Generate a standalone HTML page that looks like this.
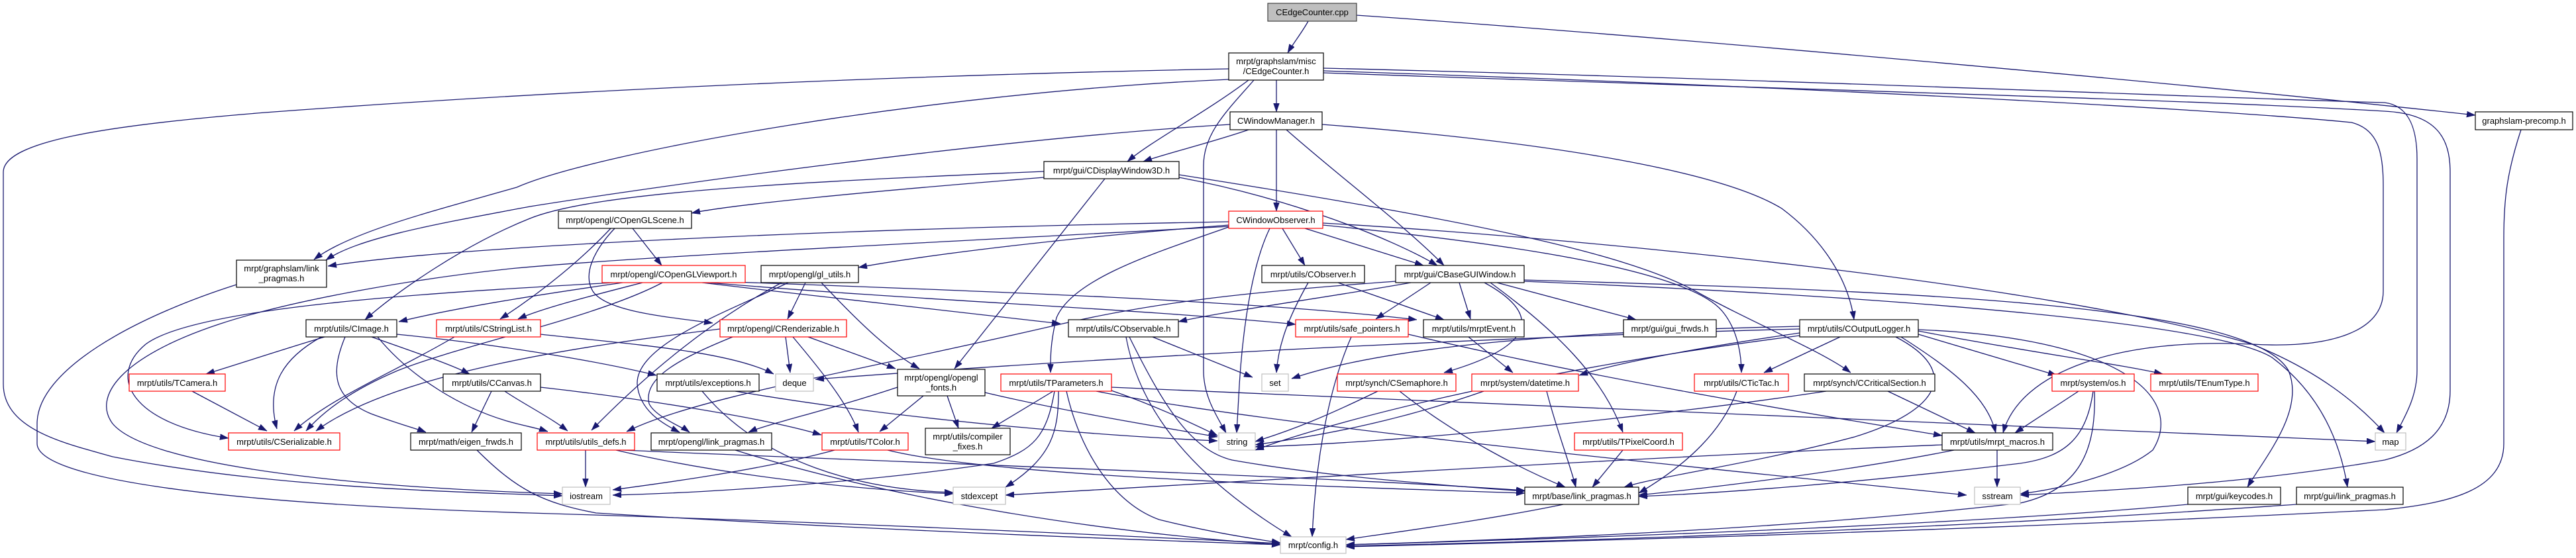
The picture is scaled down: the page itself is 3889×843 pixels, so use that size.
<!DOCTYPE html>
<html>
<head>
<meta charset="utf-8">
<style>
html,body{margin:0;padding:0;background:#fff;}
svg{display:block;}
text{font-family:"Liberation Sans",Arial,sans-serif;font-size:13px;fill:#000;text-anchor:middle;}
.e{fill:none;stroke:#191970;stroke-width:1.3;marker-end:url(#ah);}
.n{fill:#fff;stroke:#000;stroke-width:1.2;}
.r{fill:#fff;stroke:#ff0000;stroke-width:1.2;}
.g{fill:#fff;stroke:#bfbfbf;stroke-width:1.2;}
.root{fill:#bfbfbf;stroke:#404040;stroke-width:1.2;}
</style>
</head>
<body>
<svg width="3889" height="843" viewBox="0 0 3889 843" xmlns="http://www.w3.org/2000/svg">
<defs>
<marker id="ah" markerUnits="userSpaceOnUse" markerWidth="13" markerHeight="10" refX="13" refY="4.5" orient="auto">
<path d="M0,0 L13,4.5 L0,9 z" fill="#191970" stroke="#191970" stroke-width="0.5"/>
</marker>
</defs>

<!-- EDGES -->
<g>
<!-- root -->
<path class="e" d="M1975,32 C1965,50 1952,66 1944,80"/>
<path class="e" d="M2048,23 C2500,54 3300,126 3737,174"/>
<!-- CEdgeCounter.h -->
<path class="e" d="M1927,121 L1927,169"/>
<path class="e" d="M1885,121 C1820,170 1740,212 1702,244"/>
<path class="e" d="M1893,121 C1855,165 1817,200 1817,250 L1817,560 C1817,600 1838,630 1851,654"/>
<path class="e" d="M1855,104 C1300,115 800,140 400,170 C150,190 5,215 5,260 L5,580 C5,650 100,670 170,690 C400,735 650,742 849,749"/>
<path class="e" d="M1855,120 C1400,140 900,230 780,283 C650,320 530,350 474,392"/>
<path class="e" d="M1998,103 C2700,120 3400,150 3600,155 C3640,160 3649,200 3649,240 L3649,560 C3649,600 3630,630 3618,654"/>
<path class="e" d="M1998,107 C2700,130 3350,165 3550,185 C3590,195 3598,230 3598,280 L3598,440 C3598,500 3520,527 3400,520 C3200,510 3050,560 3024,654"/>
<path class="e" d="M1998,110 C2700,135 3300,150 3600,168 C3680,172 3699,210 3699,260 L3699,590 C3699,650 3660,680 3600,695 C3400,730 3200,740 3050,748"/>
<!-- CWindowManager.h -->
<path class="e" d="M1885,196 C1830,215 1760,232 1726,244"/>
<path class="e" d="M1927,196 L1927,319"/>
<path class="e" d="M1942,196 C2020,265 2120,340 2180,401"/>
<path class="e" d="M1857,188 C1500,210 1000,280 800,312 C650,340 540,360 492,393"/>
<path class="e" d="M1996,188 C2350,215 2600,260 2690,315 C2750,360 2790,420 2799,483"/>
<!-- graphslam-precomp.h -->
<path class="e" d="M3806,196 C3785,260 3780,300 3780,360 L3780,670 C3780,740 3700,760 3600,770 C3000,800 2500,815 2032,826"/>
<!-- CDisplayWindow3D.h -->
<path class="e" d="M1576,268 C1300,290 1100,310 1044,322"/>
<path class="e" d="M1576,259 C1200,275 900,290 800,330 C700,370 600,440 551,483"/>
<path class="e" d="M1780,268 C1950,300 2100,360 2170,401"/>
<path class="e" d="M1668,270 L1441,557"/>
<path class="e" d="M1780,264 C2200,330 2450,380 2560,440 C2650,490 2750,530 2794,563"/>
<!-- COpenGLScene.h -->
<path class="e" d="M955,345 L999,401"/>
<path class="e" d="M922,345 C880,390 820,440 755,482"/>
<path class="e" d="M928,345 C895,380 880,415 895,440 C915,470 1000,478 1076,488"/>
<!-- CWindowObserver.h -->
<path class="e" d="M1936,345 L1970,401"/>
<path class="e" d="M1970,345 L2149,401"/>
<path class="e" d="M1855,340 C1600,360 1400,385 1296,404"/>
<path class="e" d="M1855,335 C1300,345 700,370 495,402"/>
<path class="e" d="M1855,343 C1750,380 1620,420 1595,480 C1585,520 1586,545 1586,563"/>
<path class="e" d="M1917,345 C1890,400 1875,500 1870,600 L1867,654"/>
<path class="e" d="M1855,342 C1500,362 1000,385 780,405 C650,418 450,450 330,490 C180,540 140,600 170,640 C220,700 500,735 849,746"/>
<path class="e" d="M1997,340 C2300,370 2550,410 2600,470 C2625,500 2629,540 2629,563"/>
<path class="e" d="M1997,337 C2400,360 3100,430 3400,520 C3500,560 3560,610 3600,654"/>
<!-- COpenGLViewport.h -->
<path class="e" d="M940,427 C850,440 700,462 602,486"/>
<path class="e" d="M970,427 C900,445 820,465 782,482"/>
<path class="e" d="M925,427 C700,440 300,460 220,520 C160,570 200,640 345,662"/>
<path class="e" d="M1000,427 C900,480 700,520 600,560 C530,590 490,620 462,651"/>
<path class="e" d="M1060,427 C1250,450 1450,470 1601,489"/>
<path class="e" d="M1070,427 C1400,455 1700,465 1956,490"/>
<path class="e" d="M1080,425 C1500,440 1900,455 2139,483"/>
<!-- gl_utils.h -->
<path class="e" d="M1216,427 L1189,482"/>
<path class="e" d="M1240,427 C1290,480 1340,530 1388,557"/>
<path class="e" d="M1180,427 C1100,470 1000,540 893,650"/>
<path class="e" d="M1190,427 C1100,470 960,520 962,580 C965,620 1000,640 1026,653"/>
<!-- CObserver.h -->
<path class="e" d="M1975,427 C1945,480 1930,520 1927,563"/>
<path class="e" d="M2020,427 L2180,483"/>
<!-- CBaseGUIWindow.h -->
<path class="e" d="M2130,427 C2000,450 1850,470 1779,486"/>
<path class="e" d="M2160,427 L2077,482"/>
<path class="e" d="M2203,427 L2220,482"/>
<path class="e" d="M2260,427 L2470,483"/>
<path class="e" d="M2241,427 C2320,470 2330,520 2180,563"/>
<path class="e" d="M2250,427 C2350,500 2420,570 2450,653"/>
<path class="e" d="M2107,425 C1900,440 1750,455 1600,490 C1300,560 1050,600 946,652"/>
<path class="e" d="M2301,423 C2900,440 3400,460 3455,560 C3480,620 3420,690 3393,736"/>
<path class="e" d="M2301,425 C2900,450 3350,490 3430,540 C3510,600 3535,680 3544,736"/>
<!-- CImage.h -->
<path class="e" d="M490,509 C420,530 360,550 311,565"/>
<path class="e" d="M561,509 C620,530 680,550 709,565"/>
<path class="e" d="M485,509 C430,540 400,580 418,648"/>
<path class="e" d="M521,509 C500,560 500,600 560,625 C600,640 630,648 643,653"/>
<path class="e" d="M570,509 C620,570 700,620 780,640 C800,645 815,648 827,652"/>
<path class="e" d="M599,505 C750,520 900,545 991,567"/>
<!-- CStringList.h -->
<path class="e" d="M686,509 C600,560 500,600 444,651"/>
<path class="e" d="M816,505 C950,520 1100,530 1168,565"/>
<!-- CRenderizable.h -->
<path class="e" d="M1186,509 L1193,563"/>
<path class="e" d="M1220,509 L1352,557"/>
<path class="e" d="M1197,509 C1240,560 1280,610 1296,653"/>
<path class="e" d="M1106,509 C1030,540 970,570 980,610 C990,630 1030,645 1041,653"/>
<path class="e" d="M1087,497 C900,520 600,560 477,651"/>
<!-- CObservable.h -->
<path class="e" d="M1740,509 L1891,570"/>
<path class="e" d="M1705,509 C1760,620 1800,680 1860,695 C2000,720 2200,735 2302,742"/>
<path class="e" d="M1700,509 C1720,620 1800,720 1950,811"/>
<!-- safe_pointers.h -->
<path class="e" d="M2040,509 C2000,600 1985,720 1981,811"/>
<path class="e" d="M2126,505 C2400,570 2700,620 2932,658"/>
<!-- mrptEvent.h -->
<path class="e" d="M2217,509 L2284,563"/>
<!-- COutputLogger.h -->
<path class="e" d="M2778,509 L2663,563"/>
<path class="e" d="M2870,509 C2950,560 3000,600 3013,654"/>
<path class="e" d="M2896,505 L3105,567"/>
<path class="e" d="M2896,500 C3050,530 3200,550 3265,565"/>
<path class="e" d="M2717,497 C2400,505 1800,530 1231,573"/>
<path class="e" d="M2717,493 C2400,500 2100,520 1950,572"/>
<path class="e" d="M2717,503 C2600,520 2450,545 2384,567"/>
<path class="e" d="M2717,507 C2300,560 2000,640 1895,680"/>
<path class="e" d="M2862,509 C2960,560 2930,620 2800,660 C2650,700 2500,720 2452,736"/>
<path class="e" d="M2896,498 C3200,510 3300,600 3250,680 C3200,720 3100,740 3050,746"/>
<!-- CCanvas.h -->
<path class="e" d="M742,591 L712,653"/>
<path class="e" d="M762,591 C790,610 830,630 857,651"/>
<path class="e" d="M816,585 C950,600 1150,630 1240,657"/>
<!-- TCamera.h -->
<path class="e" d="M290,591 L403,651"/>
<!-- exceptions.h -->
<path class="e" d="M1110,591 C1400,640 1700,660 1838,666"/>
<path class="e" d="M1060,591 C1150,700 1300,740 1439,744"/>
<!-- opengl_fonts.h -->
<path class="e" d="M1355,585 C1250,620 1160,640 1130,653"/>
<path class="e" d="M1394,598 L1328,652"/>
<path class="e" d="M1430,598 L1447,647"/>
<path class="e" d="M1487,593 C1600,620 1750,645 1838,660"/>
<!-- TParameters.h -->
<path class="e" d="M1590,591 L1497,647"/>
<path class="e" d="M1598,591 C1598,650 1590,690 1518,736"/>
<path class="e" d="M1592,591 C1580,660 1560,680 1500,700 C1300,730 1050,745 925,748"/>
<path class="e" d="M1610,591 C1630,680 1680,760 1750,785 C1830,805 1900,815 1933,820"/>
<path class="e" d="M1678,585 C2200,610 3000,640 3586,667"/>
<path class="e" d="M1678,590 C1750,615 1800,640 1838,658"/>
<path class="e" d="M1655,591 C1900,640 2500,700 2969,748"/>
<!-- CSemaphore.h -->
<path class="e" d="M2080,591 C2000,630 1950,650 1895,667"/>
<path class="e" d="M2113,591 C2200,660 2300,710 2363,736"/>
<!-- datetime.h -->
<path class="e" d="M2240,591 C2100,640 1980,660 1895,672"/>
<path class="e" d="M2335,591 C2350,650 2370,700 2379,736"/>
<!-- CTicTac.h -->
<path class="e" d="M2622,591 C2600,650 2550,700 2474,745"/>
<!-- CCriticalSection.h -->
<path class="e" d="M2850,591 L2982,654"/>
<path class="e" d="M2757,591 C2500,630 2100,670 1895,675"/>
<!-- os.h -->
<path class="e" d="M3138,591 L3042,654"/>
<path class="e" d="M3160,591 C3150,660 3120,690 3050,700 C2800,730 2600,745 2474,750"/>
<path class="e" d="M3162,591 C3165,680 3140,740 3050,760 C2700,800 2300,815 2032,823"/>
<!-- TPixelCoord.h -->
<path class="e" d="M2450,680 L2404,736"/>
<!-- mrpt_macros.h -->
<path class="e" d="M3015,680 L3015,736"/>
<path class="e" d="M2950,680 C2800,710 2600,735 2474,748"/>
<path class="e" d="M2932,672 C2500,690 2000,720 1518,748"/>
<!-- utils_defs.h -->
<path class="e" d="M884,680 L884,736"/>
<path class="e" d="M930,680 C1100,720 1300,740 1439,746"/>
<path class="e" d="M940,680 C1400,700 2000,720 2302,741"/>
<!-- opengl/link_pragmas.h -->
<path class="e" d="M1110,680 C1300,740 1600,800 1933,823"/>
<!-- TColor.h -->
<path class="e" d="M1260,680 C1150,710 1000,730 925,740"/>
<path class="e" d="M1340,680 C1500,720 2000,735 2302,745"/>
<!-- eigen_frwds.h -->
<path class="e" d="M720,680 C780,740 820,760 900,775 C1300,800 1700,815 1933,823"/>
<!-- graphslam/link_pragmas.h -->
<path class="e" d="M357,430 C200,480 56,560 56,640 L56,670 C56,720 300,760 800,775 C1300,790 1700,810 1933,821"/>
<!-- base/link_pragmas.h -->
<path class="e" d="M2360,762 C2250,785 2100,805 2032,815"/>
<!-- keycodes / gui link_pragmas -->
<path class="e" d="M3303,762 C3000,790 2500,810 2032,823"/>
<path class="e" d="M3467,762 C3000,795 2500,815 2032,825"/>
</g>

<!-- NODES -->
<g>
<rect class="root" x="1914" y="5" width="134" height="27"/><text x="1981" y="23">CEdgeCounter.cpp</text>

<rect class="n" x="1855" y="80" width="143" height="41"/><text x="1926.5" y="97">mrpt/graphslam/misc</text><text x="1926.5" y="112">/CEdgeCounter.h</text>

<rect class="n" x="1857" y="169" width="139" height="27"/><text x="1926.5" y="187">CWindowManager.h</text>
<rect class="n" x="3737" y="169" width="147" height="27"/><text x="3810.5" y="187">graphslam-precomp.h</text>

<rect class="n" x="1576" y="244" width="204" height="26"/><text x="1678" y="262">mrpt/gui/CDisplayWindow3D.h</text>

<rect class="n" x="843" y="319" width="201" height="26"/><text x="943.5" y="337">mrpt/opengl/COpenGLScene.h</text>
<rect class="r" x="1855" y="319" width="142" height="26"/><text x="1926" y="337">CWindowObserver.h</text>

<rect class="n" x="357" y="393" width="136" height="41"/><text x="425" y="410">mrpt/graphslam/link</text><text x="425" y="425">_pragmas.h</text>
<rect class="r" x="909" y="401" width="216" height="26"/><text x="1017" y="419">mrpt/opengl/COpenGLViewport.h</text>
<rect class="n" x="1149" y="401" width="147" height="26"/><text x="1222.5" y="419">mrpt/opengl/gl_utils.h</text>
<rect class="n" x="1905" y="401" width="155" height="26"/><text x="1982.5" y="419">mrpt/utils/CObserver.h</text>
<rect class="n" x="2107" y="401" width="194" height="26"/><text x="2204" y="419">mrpt/gui/CBaseGUIWindow.h</text>

<rect class="n" x="462" y="483" width="137" height="26"/><text x="530.5" y="501">mrpt/utils/CImage.h</text>
<rect class="r" x="659" y="483" width="157" height="26"/><text x="737.5" y="501">mrpt/utils/CStringList.h</text>
<rect class="r" x="1087" y="483" width="191" height="26"/><text x="1182.5" y="501">mrpt/opengl/CRenderizable.h</text>
<rect class="n" x="1613" y="483" width="166" height="26"/><text x="1696" y="501">mrpt/utils/CObservable.h</text>
<rect class="r" x="1956" y="483" width="170" height="26"/><text x="2041" y="501">mrpt/utils/safe_pointers.h</text>
<rect class="n" x="2149" y="483" width="152" height="26"/><text x="2225" y="501">mrpt/utils/mrptEvent.h</text>
<rect class="n" x="2451" y="483" width="140" height="26"/><text x="2521" y="501">mrpt/gui/gui_frwds.h</text>
<rect class="n" x="2717" y="483" width="179" height="26"/><text x="2806.5" y="501">mrpt/utils/COutputLogger.h</text>

<rect class="r" x="195" y="565" width="145" height="26"/><text x="267.5" y="583">mrpt/utils/TCamera.h</text>
<rect class="n" x="669" y="565" width="147" height="26"/><text x="742.5" y="583">mrpt/utils/CCanvas.h</text>
<rect class="n" x="992" y="565" width="154" height="26"/><text x="1069" y="583">mrpt/utils/exceptions.h</text>
<rect class="g" x="1171" y="565" width="57" height="26"/><text x="1199.5" y="583">deque</text>
<rect class="n" x="1355" y="558" width="132" height="40"/><text x="1421" y="575">mrpt/opengl/opengl</text><text x="1421" y="590">_fonts.h</text>
<rect class="r" x="1511" y="565" width="167" height="26"/><text x="1594.5" y="583">mrpt/utils/TParameters.h</text>
<rect class="g" x="1905" y="565" width="40" height="26"/><text x="1925" y="583">set</text>
<rect class="r" x="2019" y="565" width="179" height="26"/><text x="2108.5" y="583">mrpt/synch/CSemaphore.h</text>
<rect class="r" x="2222" y="565" width="161" height="26"/><text x="2302.5" y="583">mrpt/system/datetime.h</text>
<rect class="r" x="2558" y="565" width="142" height="26"/><text x="2629" y="583">mrpt/utils/CTicTac.h</text>
<rect class="n" x="2724" y="565" width="197" height="26"/><text x="2822.5" y="583">mrpt/synch/CCriticalSection.h</text>
<rect class="r" x="3098" y="565" width="124" height="26"/><text x="3160" y="583">mrpt/system/os.h</text>
<rect class="r" x="3247" y="565" width="162" height="26"/><text x="3328" y="583">mrpt/utils/TEnumType.h</text>

<rect class="r" x="345" y="654" width="168" height="26"/><text x="429" y="672">mrpt/utils/CSerializable.h</text>
<rect class="n" x="620" y="654" width="167" height="26"/><text x="703.5" y="672">mrpt/math/eigen_frwds.h</text>
<rect class="r" x="811" y="654" width="147" height="26"/><text x="884.5" y="672">mrpt/utils/utils_defs.h</text>
<rect class="n" x="983" y="654" width="182" height="26"/><text x="1074" y="672">mrpt/opengl/link_pragmas.h</text>
<rect class="r" x="1241" y="654" width="130" height="26"/><text x="1306" y="672">mrpt/utils/TColor.h</text>
<rect class="n" x="1397" y="647" width="128" height="40"/><text x="1461" y="664">mrpt/utils/compiler</text><text x="1461" y="679">_fixes.h</text>
<rect class="g" x="1840" y="654" width="55" height="26"/><text x="1867.5" y="672">string</text>
<rect class="r" x="2377" y="654" width="163" height="26"/><text x="2458.5" y="672">mrpt/utils/TPixelCoord.h</text>
<rect class="n" x="2932" y="654" width="167" height="26"/><text x="3015.5" y="672">mrpt/utils/mrpt_macros.h</text>
<rect class="g" x="3586" y="654" width="46" height="26"/><text x="3609" y="672">map</text>

<rect class="g" x="849" y="736" width="72" height="26"/><text x="885" y="754">iostream</text>
<rect class="g" x="1439" y="736" width="79" height="26"/><text x="1478.5" y="754">stdexcept</text>
<rect class="n" x="2302" y="736" width="172" height="26"/><text x="2388" y="754">mrpt/base/link_pragmas.h</text>
<rect class="g" x="2981" y="736" width="69" height="26"/><text x="3015.5" y="754">sstream</text>
<rect class="n" x="3303" y="736" width="140" height="26"/><text x="3373" y="754">mrpt/gui/keycodes.h</text>
<rect class="n" x="3467" y="736" width="161" height="26"/><text x="3547.5" y="754">mrpt/gui/link_pragmas.h</text>

<rect class="g" x="1933" y="811" width="99" height="25"/><text x="1982.5" y="828">mrpt/config.h</text>
</g>
</svg>
</body>
</html>
